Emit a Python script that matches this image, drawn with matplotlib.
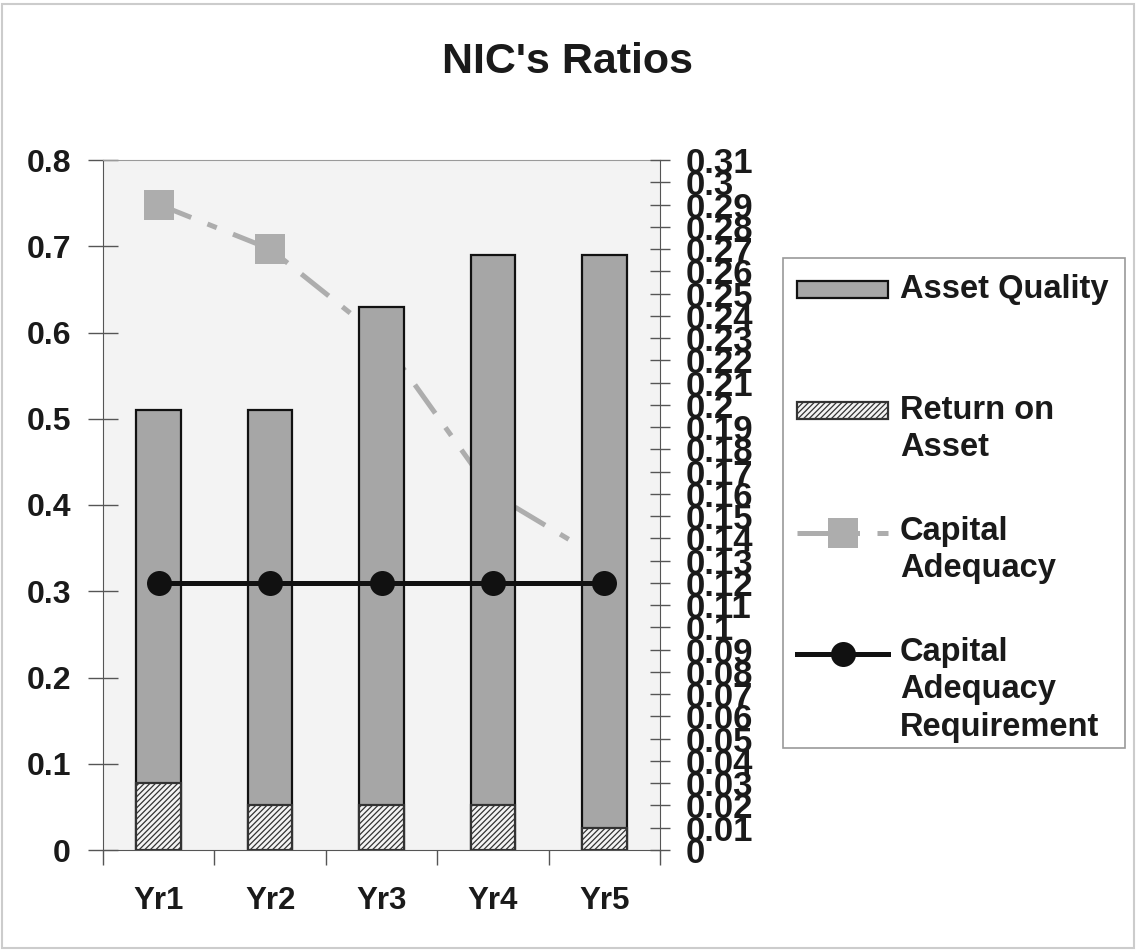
import numpy as np
import matplotlib
matplotlib.use("Agg")
import matplotlib.pyplot as plt
from matplotlib.patches import Rectangle, Patch
from matplotlib.lines import Line2D

# ---- data ----
categories = ["Yr1", "Yr2", "Yr3", "Yr4", "Yr5"]
asset_quality = [0.51, 0.51, 0.63, 0.69, 0.69]          # left axis
return_on_asset = [0.03, 0.02, 0.02, 0.02, 0.01]         # right axis
capital_adequacy = [0.29, 0.27, 0.23, 0.16, 0.13]        # right axis
capital_requirement = [0.12, 0.12, 0.12, 0.12, 0.12]     # right axis
left_ticks = [0, 0.1, 0.2, 0.3, 0.4, 0.5, 0.6, 0.7, 0.8]
right_ticks = [i / 100 for i in range(0, 32)]
title = "NIC's Ratios"

plt.rcParams['font.family'] = ['Liberation Sans', 'DejaVu Sans']
plt.rcParams['font.weight'] = 'bold'
plt.rcParams['hatch.linewidth'] = 0.9

W, H = 1136, 950
fig = plt.figure(figsize=(W / 100, H / 100), dpi=100)
fig.patch.set_facecolor('white')

rect = [103 / W, 1 - 850 / H, (660 - 103) / W, (850 - 160) / H]
x = np.arange(len(categories))

# bottom layer: capital adequacy line (behind the bars)
ax_ca = fig.add_axes(rect)
ax_ca.set_facecolor('#f3f3f3')
ax_ca.plot(x, capital_adequacy, color='#adadad', lw=3.6, dashes=(7, 3.5, 2, 3.5),
           marker='s', markersize=21, markerfacecolor='#adadad', markeredgewidth=0)
ax_ca.set_xlim(-0.5, len(categories) - 0.5)
ax_ca.set_ylim(0, 0.31)
ax_ca.set_xticks([]); ax_ca.set_yticks([])
for s in ax_ca.spines.values():
    s.set_visible(False)

# primary axis: asset quality bars
ax = fig.add_axes(rect)
ax.patch.set_visible(False)
ax.bar(x, asset_quality, width=0.4, color='#a6a6a6', edgecolor='#111111', linewidth=1.6, zorder=2)
ax.set_xlim(-0.5, len(categories) - 0.5)
ax.set_ylim(0, 0.8)
ax.set_yticks(left_ticks)
ax.set_yticklabels([f"{v:g}" for v in left_ticks])
ax.tick_params(axis='y', direction='inout', length=22, width=1, color='#555555',
               labelsize=23, pad=12, labelcolor='#1a1a1a')
ax.set_xticks(np.arange(-0.5, len(categories), 1.0))
ax.set_xticklabels([])
ax.set_xticks(x, minor=True)
ax.set_xticklabels(categories, minor=True)
ax.tick_params(axis='x', which='major', direction='out', length=11, width=1, color='#555555')
ax.tick_params(axis='x', which='minor', length=0, labelsize=22.5, pad=26, labelcolor='#1a1a1a')
ax.spines['left'].set_color('#555555')
ax.spines['bottom'].set_color('#555555')
ax.spines['top'].set_color('#9a9a9a')
ax.spines['right'].set_visible(False)

# secondary axis: ROA bars and requirement line
ax2 = ax.twinx()
ax2.patch.set_visible(False)
ax2.bar(x, return_on_asset, width=0.4, color='#f4f4f4', edgecolor='#333333', hatch='//////',
        linewidth=1.6, zorder=2)
ax2.plot(x, capital_requirement, color='#111111', lw=3.6, marker='o', markersize=18,
         markerfacecolor='#111111', markeredgewidth=0, zorder=3)
ax2.set_ylim(0, 0.31)
ax2.set_yticks(right_ticks)
ax2.set_yticklabels([f"{v:g}" for v in right_ticks])
ax2.tick_params(axis='y', direction='inout', length=15, width=1, color='#555555',
                labelsize=25, pad=11, labelcolor='#1a1a1a')
ax2.spines['right'].set_color('#555555')
for k in ['left', 'top', 'bottom']:
    ax2.spines[k].set_visible(False)

fig.text(0.5, 1 - 62 / H, title, ha='center', va='center', fontsize=31, fontweight='bold',
         color='#1a1a1a')

# legend
handles = [
    Patch(facecolor='#a6a6a6', edgecolor='#111111', linewidth=1.6),
    Patch(facecolor='#f4f4f4', edgecolor='#333333', hatch='//////', linewidth=1.6),
    Line2D([], [], color='#adadad', lw=3.6, dashes=(7, 3.5, 2, 3.5), marker='s',
           markersize=21, markerfacecolor='#adadad', markeredgewidth=0),
    Line2D([], [], color='#111111', lw=3.6, marker='o', markersize=18,
           markerfacecolor='#111111', markeredgewidth=0),
]
labels = [
    "\n\nAsset Quality\n\n",
    "\n\nReturn on\nAsset\n",
    "\n\nCapital\nAdequacy\n",
    "\n\nCapital\nAdequacy\nRequirement",
]
leg_fs = 23.5
fs_px = leg_fs * 100 / 72
leg = fig.legend(handles, labels, loc='upper left',
                 bbox_to_anchor=(797 / W, 1 - 199 / H),
                 frameon=False, prop={'size': leg_fs, 'weight': 'bold'},
                 handlelength=91 / fs_px, handleheight=0.43, handletextpad=12 / fs_px,
                 labelspacing=-60 / fs_px, borderpad=0, borderaxespad=0,
                 numpoints=1, labelcolor='#1a1a1a')
for t in leg.get_texts():
    t.set_linespacing(1.27)

fig.add_artist(Rectangle((783 / W, 1 - 748 / H), (1125 - 783) / W, (748 - 258) / H,
                         transform=fig.transFigure, fill=False, edgecolor='#9a9a9a', lw=1.2))
fig.add_artist(Rectangle((2 / W, 2 / H), (W - 4) / W, (H - 6) / H,
                         transform=fig.transFigure, fill=False, edgecolor='#cccccc', lw=1.5))

fig.savefig("out.png", dpi=100)
